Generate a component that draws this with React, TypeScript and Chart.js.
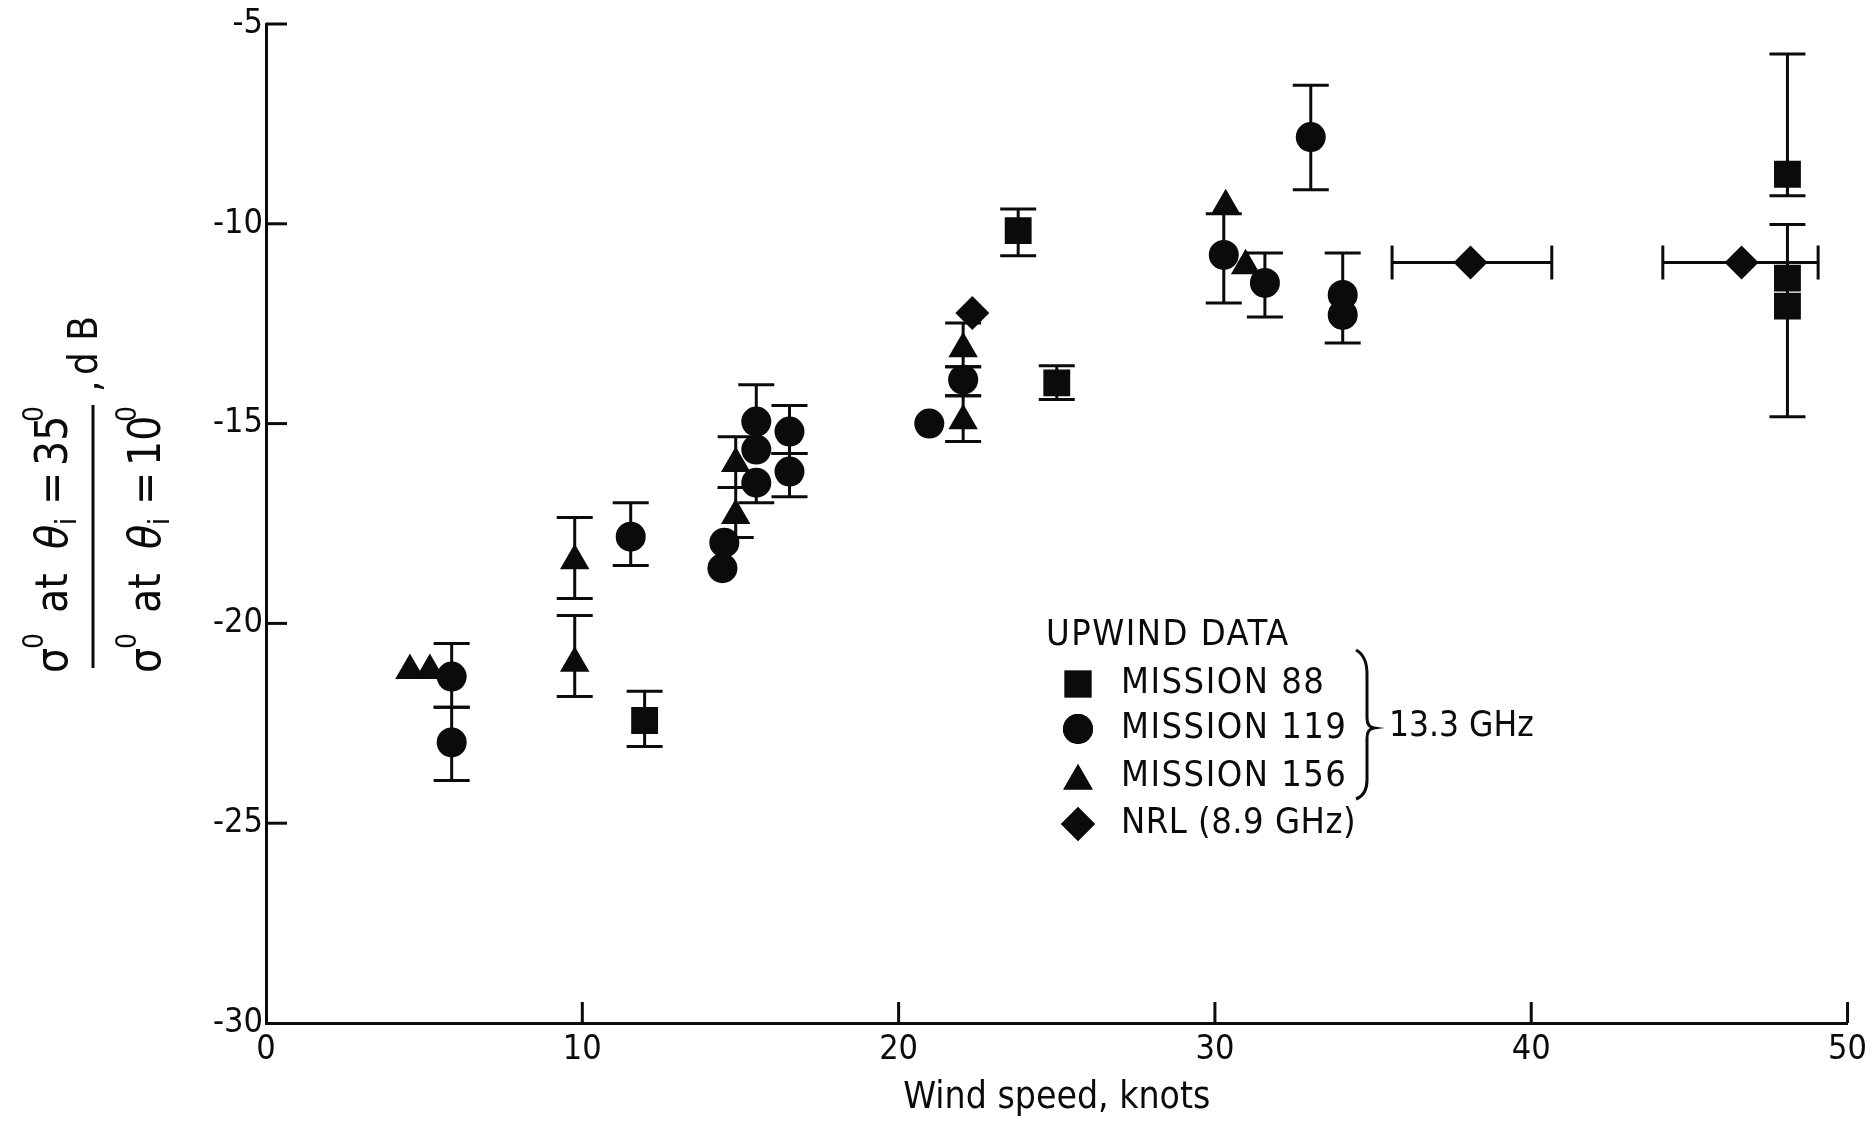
import React, { useEffect, useRef } from 'react';
import { Chart, registerables } from 'chart.js';
import { drawPoint } from 'chart.js/helpers';

Chart.register(...registerables);

const FONT = "'DejaVu Sans Condensed', 'Liberation Sans Narrow', 'DejaVu Sans', sans-serif";
const INK = '#0b0b0b';

// Axis ticks
const xTickValues = [0, 10, 20, 30, 40, 50];
const yTickValues = [-30, -25, -20, -15, -10, -5];

// Mission 88 (squares)
const m88X = [11.97, 23.78, 25.0, 48.1, 48.1, 48.1];
const m88Y = [-22.43, -10.17, -13.98, -8.76, -11.36, -12.06];
const m88Lo = [-23.08, -10.8, -14.4, -9.3, -14.83, null];
const m88Hi = [-21.7, -9.63, -13.55, -5.75, -10.02, null];

// Mission 119 (circles)
const m119X = [5.87, 5.87, 11.53, 14.49, 14.43, 15.5, 15.5, 15.5, 16.55, 16.55, 20.97, 22.04, 30.28, 31.58, 33.03, 34.04, 34.04];
const m119Y = [-21.33, -22.98, -17.83, -17.98, -18.62, -14.95, -15.65, -16.48, -15.2, -16.2, -15.0, -13.9, -10.78, -11.48, -7.83, -11.78, -12.28];
const m119Lo = [-22.1, -23.93, -18.55, null, null, null, null, -16.98, -15.75, -16.83, null, -14.3, -11.98, -12.33, -9.15, null, -12.98];
const m119Hi = [-20.5, -22.1, -16.98, null, null, -14.03, null, null, -14.55, -15.75, null, -13.58, -9.75, -10.73, -6.53, -10.73, null];

// Mission 156 (triangles)
const m156X = [4.55, 5.18, 9.76, 9.76, 14.85, 14.85, 22.04, 22.04, 30.34, 30.97];
const m156Y = [-21.18, -21.18, -18.43, -21.0, -16.0, -17.3, -13.13, -14.93, -9.55, -11.05];
const m156Lo = [null, null, -19.38, -21.83, -16.6, -17.85, -13.58, -15.45, null, null];
const m156Hi = [null, null, -17.35, -19.8, -15.33, -16.6, -12.48, -14.3, null, null];

// NRL 8.9 GHz (diamonds)
const nrlX = [22.33, 38.08, 46.65];
const nrlY = [-12.23, -10.97, -10.97];
const nrlXLo = [null, 35.6, 44.16];
const nrlXHi = [null, 40.65, 49.07];

const legendTitle = 'UPWIND DATA';
const legendLabels = ['MISSION 88', 'MISSION 119', 'MISSION 156', 'NRL (8.9 GHz)'];
const bracketLabel = '13.3 GHz';
const xTitle = 'Wind speed, knots';

const styles = [
  { pointStyle: 'rect', radius: 19 },
  { pointStyle: 'circle', radius: 15 },
  { pointStyle: 'triangle', radius: 17 },
  { pointStyle: 'rectRot', radius: 17 },
];

function pts(xs: number[], ys: number[]) {
  return xs.map((x, i) => ({ x, y: ys[i] }));
}

const errorBarPlugin = {
  id: 'errorBars',
  beforeDatasetsDraw(chart: any) {
    const { ctx, scales } = chart;
    const xs = scales.x, ys = scales.y;
    const cap = 18;
    ctx.save();
    ctx.strokeStyle = INK;
    ctx.lineWidth = 3;
    ctx.lineCap = 'butt';
    chart.data.datasets.forEach((ds: any) => {
      ds.data.forEach((p: any, i: number) => {
        const px = xs.getPixelForValue(p.x);
        const py = ys.getPixelForValue(p.y);
        const lo = ds.yLo ? ds.yLo[i] : null;
        const hi = ds.yHi ? ds.yHi[i] : null;
        [lo, hi].forEach((v) => {
          if (v === null || v === undefined) return;
          const ey = ys.getPixelForValue(v);
          ctx.beginPath();
          ctx.moveTo(px, py);
          ctx.lineTo(px, ey);
          ctx.moveTo(px - cap, ey);
          ctx.lineTo(px + cap, ey);
          ctx.stroke();
        });
        const xlo = ds.xLo ? ds.xLo[i] : null;
        const xhi = ds.xHi ? ds.xHi[i] : null;
        [xlo, xhi].forEach((v) => {
          if (v === null || v === undefined) return;
          const ex = xs.getPixelForValue(v);
          ctx.beginPath();
          ctx.moveTo(px, py);
          ctx.lineTo(ex, py);
          ctx.moveTo(ex, py - 17);
          ctx.lineTo(ex, py + 17);
          ctx.stroke();
        });
      });
    });
    ctx.restore();
  },
};

const decorPlugin = {
  id: 'decor',
  afterDraw(chart: any) {
    const { ctx, scales, chartArea } = chart;
    const xs = scales.x, ys = scales.y;
    ctx.save();
    // inward tick marks
    ctx.strokeStyle = INK;
    ctx.lineWidth = 3;
    const tl = 21;
    yTickValues.forEach((v) => {
      if (v === -30) return;
      const y = ys.getPixelForValue(v);
      ctx.beginPath();
      ctx.moveTo(chartArea.left, y);
      ctx.lineTo(chartArea.left + tl, y);
      ctx.stroke();
    });
    xTickValues.forEach((v) => {
      if (v === 0) return;
      const x = xs.getPixelForValue(v);
      ctx.beginPath();
      ctx.moveTo(x, chartArea.bottom);
      ctx.lineTo(x, chartArea.bottom - tl);
      ctx.stroke();
    });

    // legend
    ctx.fillStyle = INK;
    ctx.textBaseline = 'middle';
    ctx.textAlign = 'left';
    ctx.font = `36px ${FONT}`;
    (ctx as any).letterSpacing = '1.5px';
    ctx.fillText(legendTitle, 1046, 636);
    const rowY = [684, 729, 777, 824];
    legendLabels.forEach((lab, i) => {
      const st = styles[i];
      ctx.fillStyle = INK;
      drawPoint(ctx, { pointStyle: st.pointStyle as any, radius: st.radius, rotation: 0, borderWidth: 0 } as any, 1078, rowY[i] + (st.pointStyle === 'triangle' ? 4 : 0));
      ctx.fill();
      if (i === 3) (ctx as any).letterSpacing = '0.5px';
      ctx.fillText(lab, 1121, rowY[i]);
    });
    (ctx as any).letterSpacing = '0px';
    ctx.font = `35px ${FONT}`;
    ctx.fillText(bracketLabel, 1389, 727);
    // brace
    ctx.beginPath();
    ctx.lineWidth = 3;
    ctx.moveTo(1356, 650);
    ctx.quadraticCurveTo(1367, 656, 1367, 674);
    ctx.lineTo(1367, 718);
    ctx.quadraticCurveTo(1367, 727, 1374, 728);
    ctx.quadraticCurveTo(1367, 729, 1367, 738);
    ctx.lineTo(1367, 780);
    ctx.quadraticCurveTo(1367, 795, 1356, 799);
    ctx.stroke();

    // y-axis label (rotated fraction)
    ctx.translate(93, 673);
    ctx.rotate(-Math.PI / 2);
    ctx.textBaseline = 'alphabetic';
    const big = `44px ${FONT}`;
    const small = `28px ${FONT}`;
    const ital = `italic 44px ${FONT}`;
    const piece = (t: string, u: number, v: number, f: string) => {
      ctx.font = f;
      ctx.fillText(t, u, v);
    };
    const drawLine = (v: number, num: string) => {
      piece('σ', 0, v, big);
      piece('0', 24, v - 24, small);
      piece('at', 60, v, big);
      piece('θ', 124, v, ital);
      piece('i', 148, v + 9, small);
      piece('=', 168, v, big);
      piece(num, 207, v, big);
      piece('0', 251, v - 24, small);
    };
    drawLine(-26, '35');
    drawLine(67, '10');
    ctx.beginPath();
    ctx.lineWidth = 3;
    ctx.moveTo(5, 0);
    ctx.lineTo(268, 0);
    ctx.stroke();
    piece(',', 281, 6, `40px ${FONT}`);
    piece('d B', 298, 4, `40px ${FONT}`);
    ctx.restore();
  },
};

export default function App() {
  const ref = useRef<HTMLCanvasElement>(null);
  useEffect(() => {
    if (!ref.current) return;
    const tickFont = { family: FONT, size: 34 };
    const chart = new Chart(ref.current, {
      type: 'scatter',
      data: {
        datasets: [
          { label: legendLabels[0], data: pts(m88X, m88Y), yLo: m88Lo, yHi: m88Hi, ...styles[0] } as any,
          { label: legendLabels[1], data: pts(m119X, m119Y), yLo: m119Lo, yHi: m119Hi, ...styles[1] } as any,
          { label: legendLabels[2], data: pts(m156X, m156Y), yLo: m156Lo, yHi: m156Hi, ...styles[2] } as any,
          { label: legendLabels[3], data: pts(nrlX, nrlY), xLo: nrlXLo, xHi: nrlXHi, ...styles[3] } as any,
        ].map((d: any) => ({ ...d, backgroundColor: INK, borderColor: INK, borderWidth: 0, pointRadius: d.radius, pointHoverRadius: d.radius })),
      },
      options: {
        responsive: false,
        animation: false,
        devicePixelRatio: 1,
        events: [],
        layout: { padding: { top: 24, right: 24, left: 0, bottom: 0 } },
        plugins: { legend: { display: false }, tooltip: { enabled: false } },
        scales: {
          x: {
            type: 'linear',
            min: 0,
            max: 50,
            afterFit: (s: any) => { s.height = 100; },
            afterBuildTicks: (s: any) => { s.ticks = xTickValues.map((v) => ({ value: v })); },
            grid: { display: false, drawTicks: false },
            border: { display: true, color: INK, width: 3 },
            ticks: { color: INK, font: tickFont, padding: 7, maxRotation: 0 },
            title: { display: true, text: xTitle, color: INK, font: { family: FONT, size: 37, lineHeight: 1.0 }, padding: { top: 0, bottom: 6 } },
          },
          y: {
            type: 'linear',
            min: -30,
            max: -5,
            afterFit: (s: any) => { s.width = 266; },
            afterBuildTicks: (s: any) => { s.ticks = yTickValues.map((v) => ({ value: v })); },
            grid: { display: false, drawTicks: false },
            border: { display: true, color: INK, width: 3 },
            ticks: { color: INK, font: tickFont, padding: 3 },
          },
        },
      },
      plugins: [errorBarPlugin, decorPlugin],
    } as any);
    return () => chart.destroy();
  }, []);
  return (
    <div style={{ position: 'fixed', left: 0, top: 0, width: 1874, height: 1123, background: '#fff' }}>
      <canvas ref={ref} width={1874} height={1123} style={{ width: 1874, height: 1123, display: 'block' }} />
    </div>
  );
}
